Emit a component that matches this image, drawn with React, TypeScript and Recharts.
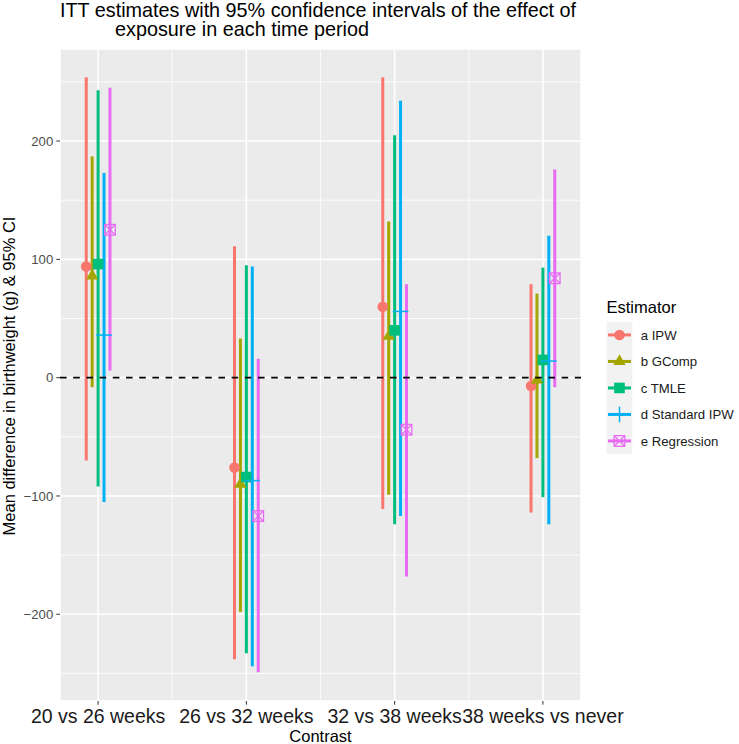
import React from 'react';
import {
  ScatterChart,
  Scatter,
  XAxis,
  YAxis,
  CartesianGrid,
  ReferenceLine,
  ErrorBar,
  Customized,
} from 'recharts';

// ---------- data ----------
const categories = ['20 vs 26 weeks', '26 vs 32 weeks', '32 vs 38 weeks', '38 weeks vs never'];
const estimators = ['a IPW', 'b GComp', 'c TMLE', 'd Standard IPW', 'e Regression'];

const ipwEst = [94, -76, 60, -7];
const ipwLow = [-70, -238, -111, -114];
const ipwHigh = [254, 111, 254, 79];

const gcompEst = [86, -90, 35, -2];
const gcompLow = [-8, -198, -99, -68];
const gcompHigh = [187, 33, 132, 71];

const tmleEst = [96, -84, 40, 15];
const tmleLow = [-92, -233, -124, -101];
const tmleHigh = [243, 95, 205, 93];

const stdIpwEst = [36, -87, 56, 14];
const stdIpwLow = [-105, -244, -117, -124];
const stdIpwHigh = [173, 94, 234, 120];

const regEst = [125, -117, -44, 84];
const regLow = [6, -249, -168, -8];
const regHigh = [245, 16, 79, 176];

const yTicks = [-200, -100, 0, 100, 200];
const yMinor = [-250, -150, -50, 50, 150, 250];
const xMinor = [0.5, 1.5, 2.5];

// ---------- styling ----------
const COLORS = ['#F8766D', '#A3A500', '#00BF7D', '#00B0F6', '#E76BF3'];
const DODGE = 0.04;
const FONT = '"Liberation Sans", Arial, Helvetica, sans-serif';

const seriesData = [
  [ipwEst, ipwLow, ipwHigh],
  [gcompEst, gcompLow, gcompHigh],
  [tmleEst, tmleLow, tmleHigh],
  [stdIpwEst, stdIpwLow, stdIpwHigh],
  [regEst, regLow, regHigh],
];

const rows = seriesData.map(([est, low, high], k) =>
  categories.map((c, j) => ({
    x: j + (k - 2) * DODGE,
    y: est[j],
    err: [est[j] - low[j], high[j] - est[j]],
    cat: c,
  }))
);

function Glyph({ k, cx, cy }: { k: number; cx: number; cy: number }) {
  const c = COLORS[k];
  if (k === 0) return <circle cx={cx} cy={cy} r={5.3} fill={c} />;
  if (k === 1) {
    const s = 4.57;
    const pts = `${cx},${cy - 1.555 * s} ${cx + 1.347 * s},${cy + 0.778 * s} ${cx - 1.347 * s},${cy + 0.778 * s}`;
    return <polygon points={pts} fill={c} />;
  }
  if (k === 2) return <rect x={cx - 5.3} y={cy - 5.3} width={10.6} height={10.6} fill={c} />;
  if (k === 3) {
    const h = 7.8;
    return (
      <g stroke={c} strokeWidth={1.5}>
        <line x1={cx - h} y1={cy} x2={cx + h} y2={cy} />
        <line x1={cx} y1={cy - h} x2={cx} y2={cy + h} />
      </g>
    );
  }
  const h = 5.3;
  return (
    <g stroke={c} strokeWidth={1.3} fill="none">
      <rect x={cx - h} y={cy - h} width={2 * h} height={2 * h} />
      <line x1={cx - h} y1={cy - h} x2={cx + h} y2={cy + h} />
      <line x1={cx - h} y1={cy + h} x2={cx + h} y2={cy - h} />
    </g>
  );
}

const Overlay = () => {
  const keyTop = 321.7;
  const keyH = 26.5;
  return (
    <g style={{ fontFamily: FONT }}>
      <text x={60} y={16.5} fontSize={19.8} fill="#000">
        ITT estimates with 95% confidence intervals of the effect of
      </text>
      <text x={115} y={36} fontSize={19.8} fill="#000">
        exposure in each time period
      </text>
      <text x={320.5} y={741.5} fontSize={16.5} fill="#000" textAnchor="middle">
        Contrast
      </text>
      <text
        x={14.5}
        y={376}
        fontSize={16.5}
        fill="#000"
        textAnchor="middle"
        transform="rotate(-90, 14.5, 376)"
      >
        Mean difference in birthweight (g) &amp; 95% CI
      </text>
      <text x={606.5} y={312.5} fontSize={16.5} fill="#000">
        Estimator
      </text>
      <rect x={606.7} y={keyTop} width={25.6} height={keyH * 5} fill="#F2F2F2" />
      {estimators.map((name, k) => {
        const cy = keyTop + keyH * (k + 0.5);
        return (
          <g key={name}>
            <line x1={608} y1={cy} x2={631} y2={cy} stroke={COLORS[k]} strokeWidth={3} />
            <Glyph k={k} cx={619.5} cy={cy} />
            <text x={640.7} y={cy + 4.7} fontSize={13.2} fill="#1A1A1A">
              {name}
            </text>
          </g>
        );
      })}
    </g>
  );
};

export default function App() {
  return (
    <div style={{ position: 'absolute', left: 0, top: 0, fontFamily: FONT }}>
      <ScatterChart
        width={739}
        height={744}
        margin={{ top: 49, right: 158, bottom: 0, left: 0 }}
      >
        <CartesianGrid stroke="#FFFFFF" strokeWidth={1.6} fill="#EBEBEB" />
        {yMinor.map((v) => (
          <ReferenceLine key={'ym' + v} y={v} stroke="#FFFFFF" strokeWidth={0.8} zIndex={-50} />
        ))}
        {xMinor.map((v) => (
          <ReferenceLine key={'xm' + v} x={v} stroke="#FFFFFF" strokeWidth={0.8} zIndex={-50} />
        ))}
        <XAxis
          type="number"
          dataKey="x"
          domain={[-0.257, 3.257]}
          allowDataOverflow
          ticks={[0, 1, 2, 3]}
          interval={0}
          tickFormatter={(v: number) => categories[Math.round(v)]}
          height={43}
          axisLine={false}
          tickLine={{ stroke: '#333333' }}
          tickSize={3.7}
          tickMargin={4.5}
          tick={{ fontSize: 19.5, fill: '#1A1A1A' }}
        />
        <YAxis
          type="number"
          dataKey="y"
          domain={[-273.3, 277.8]}
          allowDataOverflow
          ticks={yTicks}
          tickFormatter={(v: number) => String(v).replace('-', '\u2212')}
          width={60}
          axisLine={false}
          tickLine={{ stroke: '#333333' }}
          tickSize={3.7}
          tickMargin={3}
          tick={{ fontSize: 13.2, fill: '#4D4D4D' }}
        />
        {rows.map((data, k) => (
          <Scatter
            key={'line' + k}
            data={data}
            isAnimationActive={false}
            shape={() => <g />}
          >
            <ErrorBar
              dataKey="err"
              direction="y"
              width={0}
              stroke={COLORS[k]}
              strokeWidth={3}
              isAnimationActive={false}
            />
          </Scatter>
        ))}
        {rows.map((data, k) => (
          <Scatter
            key={'pt' + k}
            data={data}
            isAnimationActive={false}
            shape={(p: any) => <Glyph k={k} cx={p.cx} cy={p.cy} />}
          />
        ))}
        <ReferenceLine y={0} stroke="#000000" strokeWidth={1.6} strokeDasharray="6.6 6.6" zIndex={700} />
        <Customized component={Overlay} />
      </ScatterChart>
    </div>
  );
}
